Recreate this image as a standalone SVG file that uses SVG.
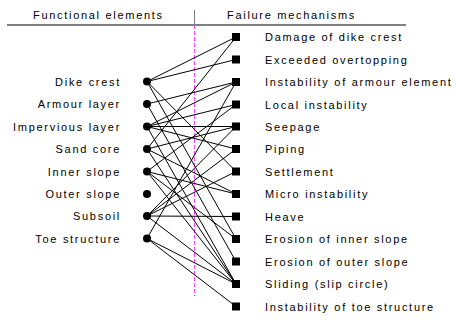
<svg xmlns="http://www.w3.org/2000/svg" width="456" height="320" viewBox="0 0 456 320">
<style>
text{font-family:"Liberation Sans",Arial,sans-serif;font-size:11px;letter-spacing:1.7px;fill:#000}
.l{text-anchor:end}
.c line{stroke:#000;stroke-width:1}
.dot{fill:#000}
.sq{fill:#000}
</style>
<rect width="456" height="320" fill="#fff"/>
<g id="header">
<text x="33" y="18.5">Functional elements</text>
<text x="227" y="18.5">Failure mechanisms</text>
<line x1="7" y1="25" x2="406" y2="25" stroke="#000" stroke-width="1"/>
<line x1="194.5" y1="10" x2="194.5" y2="25" stroke="#808080" stroke-width="1"/>
</g>
<line id="divider" x1="194.5" y1="25" x2="194.5" y2="296" stroke="#ff44ff" stroke-width="1" stroke-dasharray="4 2"/>
<g class="c" id="connectors">
<line x1="147" y1="81.5" x2="236" y2="37"/>
<line x1="147" y1="81.5" x2="236" y2="59.5"/>
<line x1="147" y1="81.5" x2="236" y2="171.5"/>
<line x1="147" y1="81.5" x2="236" y2="239"/>
<line x1="147" y1="104" x2="236" y2="82"/>
<line x1="147" y1="104" x2="236" y2="261.5"/>
<line x1="147" y1="126.5" x2="236" y2="82"/>
<line x1="147" y1="126.5" x2="236" y2="104.5"/>
<line x1="147" y1="126.5" x2="236" y2="126.5"/>
<line x1="147" y1="126.5" x2="236" y2="149"/>
<line x1="147" y1="126.5" x2="236" y2="284"/>
<line x1="147" y1="149" x2="236" y2="37"/>
<line x1="147" y1="149" x2="236" y2="126.5"/>
<line x1="147" y1="149" x2="236" y2="194"/>
<line x1="147" y1="149" x2="236" y2="284"/>
<line x1="147" y1="171.5" x2="236" y2="104.5"/>
<line x1="147" y1="171.5" x2="236" y2="194"/>
<line x1="147" y1="171.5" x2="236" y2="239"/>
<line x1="147" y1="171.5" x2="236" y2="284"/>
<line x1="147" y1="216" x2="236" y2="126.5"/>
<line x1="147" y1="216" x2="236" y2="149"/>
<line x1="147" y1="216" x2="236" y2="171.5"/>
<line x1="147" y1="216" x2="236" y2="216.5"/>
<line x1="147" y1="216" x2="236" y2="284"/>
<line x1="147" y1="238.5" x2="236" y2="82"/>
<line x1="147" y1="238.5" x2="236" y2="284"/>
<line x1="147" y1="238.5" x2="236" y2="306.5"/>
</g>
<g id="fe-dike-crest"><circle class="dot" cx="147" cy="81.5" r="4"/><text class="l" x="121" y="85.5">Dike crest</text></g>
<g id="fe-armour-layer"><circle class="dot" cx="147" cy="104" r="4"/><text class="l" x="121" y="108">Armour layer</text></g>
<g id="fe-impervious-layer"><circle class="dot" cx="147" cy="126.5" r="4"/><text class="l" x="121" y="130.5">Impervious layer</text></g>
<g id="fe-sand-core"><circle class="dot" cx="147" cy="149" r="4"/><text class="l" x="121" y="153">Sand core</text></g>
<g id="fe-inner-slope"><circle class="dot" cx="147" cy="171.5" r="4"/><text class="l" x="121" y="175.5">Inner slope</text></g>
<g id="fe-outer-slope"><circle class="dot" cx="147" cy="194" r="4"/><text class="l" x="121" y="198">Outer slope</text></g>
<g id="fe-subsoil"><circle class="dot" cx="147" cy="216" r="4"/><text class="l" x="121" y="220">Subsoil</text></g>
<g id="fe-toe-structure"><circle class="dot" cx="147" cy="238.5" r="4"/><text class="l" x="121" y="242.5">Toe structure</text></g>
<g id="fm-1"><rect class="sq" x="232" y="33" width="8" height="8"/><text x="265" y="41">Damage of dike crest</text></g>
<g id="fm-2"><rect class="sq" x="232" y="55.5" width="8" height="8"/><text x="265" y="63.5">Exceeded overtopping</text></g>
<g id="fm-3"><rect class="sq" x="232" y="78" width="8" height="8"/><text x="265" y="86">Instability of armour element</text></g>
<g id="fm-4"><rect class="sq" x="232" y="100.5" width="8" height="8"/><text x="265" y="108.5">Local instability</text></g>
<g id="fm-5"><rect class="sq" x="232" y="122.5" width="8" height="8"/><text x="265" y="130.5">Seepage</text></g>
<g id="fm-6"><rect class="sq" x="232" y="145" width="8" height="8"/><text x="265" y="153">Piping</text></g>
<g id="fm-7"><rect class="sq" x="232" y="167.5" width="8" height="8"/><text x="265" y="175.5">Settlement</text></g>
<g id="fm-8"><rect class="sq" x="232" y="190" width="8" height="8"/><text x="265" y="198">Micro instability</text></g>
<g id="fm-9"><rect class="sq" x="232" y="212.5" width="8" height="8"/><text x="265" y="220.5">Heave</text></g>
<g id="fm-10"><rect class="sq" x="232" y="235" width="8" height="8"/><text x="265" y="243">Erosion of inner slope</text></g>
<g id="fm-11"><rect class="sq" x="232" y="257.5" width="8" height="8"/><text x="265" y="265.5">Erosion of outer slope</text></g>
<g id="fm-12"><rect class="sq" x="232" y="280" width="8" height="8"/><text x="265" y="288">Sliding (slip circle)</text></g>
<g id="fm-13"><rect class="sq" x="232" y="302.5" width="8" height="8"/><text x="265" y="310.5">Instability of toe structure</text></g>
</svg>
